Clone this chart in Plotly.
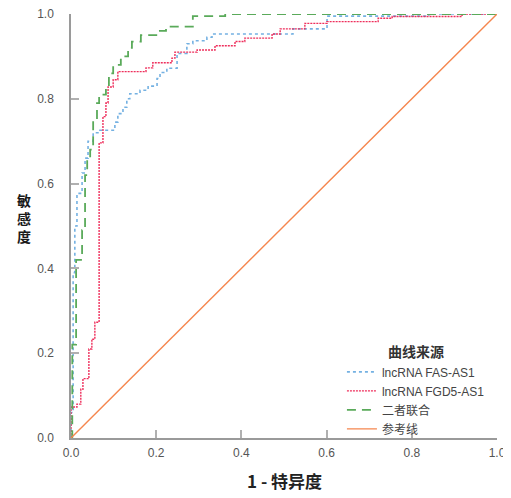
import plotly.graph_objects as go

# ROC data (fpr = 1 - specificity, tpr = sensitivity), step corners
fas_fpr = [0, 0, 0.005, 0.009, 0.014, 0.026, 0.033, 0.040, 0.052, 0.066, 0.103, 0.110, 0.122, 0.131,
           0.138, 0.162, 0.181, 0.202, 0.209, 0.225, 0.249, 0.272, 0.286, 0.319, 0.331, 0.521, 0.601, 0.84, 1.0]
fas_tpr = [0, 0.06, 0.39, 0.50, 0.577, 0.625, 0.66, 0.70, 0.72, 0.726, 0.745, 0.765, 0.78, 0.80,
           0.812, 0.82, 0.83, 0.848, 0.862, 0.872, 0.907, 0.93, 0.937, 0.945, 0.953, 0.965, 0.995, 1.0, 1.0]

fgd_fpr = [0, 0, 0.014, 0.023, 0.028, 0.042, 0.049, 0.056, 0.066, 0.075, 0.082, 0.087, 0.099, 0.110,
           0.176, 0.192, 0.237, 0.244, 0.296, 0.338, 0.385, 0.408, 0.472, 0.491, 0.549, 0.601, 0.721,
           0.754, 0.918, 1.0]
fgd_tpr = [0, 0.073, 0.08, 0.115, 0.14, 0.21, 0.233, 0.273, 0.696, 0.758, 0.79, 0.828, 0.845, 0.864,
           0.873, 0.885, 0.896, 0.91, 0.915, 0.925, 0.935, 0.943, 0.953, 0.965, 0.978, 0.982, 0.99,
           0.994, 1.0, 1.0]

comb_fpr = [0, 0.003, 0.012, 0.026, 0.033, 0.038, 0.045, 0.052, 0.061, 0.066, 0.082, 0.089, 0.099,
            0.117, 0.134, 0.143, 0.164, 0.204, 0.223, 0.286, 0.362, 1.0]
comb_tpr = [0, 0.22, 0.42, 0.49, 0.62, 0.66, 0.68, 0.75, 0.79, 0.81, 0.83, 0.86, 0.88,
            0.90, 0.92, 0.935, 0.95, 0.96, 0.97, 0.995, 1.0, 1.0]

ref_x = [0, 1]
ref_y = [0, 1]

names = ["lncRNA FAS-AS1", "lncRNA FGD5-AS1", "二者联合", "参考线"]
tick_vals = [0, 0.2, 0.4, 0.6, 0.8, 1.0]
tick_text = ["0.0", "0.2", "0.4", "0.6", "0.8", "1.0"]

fig = go.Figure()
fig.add_trace(go.Scatter(x=fas_fpr, y=fas_tpr, mode="lines", name=names[0],
                         line=dict(color="#74B1E2", width=1.6, dash="3px,3px", shape="hv")))
fig.add_trace(go.Scatter(x=fgd_fpr, y=fgd_tpr, mode="lines", name=names[1],
                         line=dict(color="#EE2F5C", width=1.4, dash="2px,1px", shape="hv")))
fig.add_trace(go.Scatter(x=comb_fpr, y=comb_tpr, mode="lines", name=names[2],
                         line=dict(color="#5AAA5A", width=1.8, dash="9px,6px", shape="hv")))
fig.add_trace(go.Scatter(x=ref_x, y=ref_y, mode="lines", name=names[3],
                         line=dict(color="#F5864E", width=1.4)))

axis_common = dict(range=[0, 1], showgrid=False, zeroline=False, showline=True, automargin=False,
                   linecolor="#9a9a9a", linewidth=1.5, ticks="inside", ticklen=8,
                   tickcolor="#b0b0b0", tickwidth=1.5, tickvals=tick_vals, ticktext=tick_text,
                   ticklabeloverflow="allow",
                   tickfont=dict(family="Liberation Sans, Arial", size=12, color="#555555"))

fig.update_layout(
    width=503, height=490,
    margin=dict(l=63, r=14, t=5.5, b=59.5),
    paper_bgcolor="white", plot_bgcolor="white",
    xaxis=dict(**axis_common, ticklabelstandoff=3),
    yaxis=dict(**axis_common, ticklabelstandoff=13),
    legend=dict(
        x=0.636, y=0.233, xanchor="left", yanchor="top",
        bgcolor="rgba(0,0,0,0)",
        font=dict(family="Liberation Sans, Noto Sans CJK SC", size=12, color="#444444"),
        title=dict(text="<b>曲线来源</b>", side="top center",
                   font=dict(family="Noto Sans CJK SC", size=14, color="#333333")),
        tracegroupgap=0, itemwidth=30,
    ),
    showlegend=True,
)

fig.add_annotation(text="<b>1 - 特异度</b>", xref="paper", yref="paper", x=0.5, y=-0.066,
                   xanchor="center", yanchor="top", showarrow=False,
                   font=dict(family="Noto Sans CJK SC", size=17, color="#222222"))
fig.add_annotation(text="<b>敏<br>感<br>度</b>", xref="paper", yref="paper", x=-0.111, y=0.52,
                   xanchor="center", yanchor="middle", showarrow=False,
                   font=dict(family="Noto Sans CJK SC", size=14, color="#1a1a1a"))

fig.write_html("out.html")
